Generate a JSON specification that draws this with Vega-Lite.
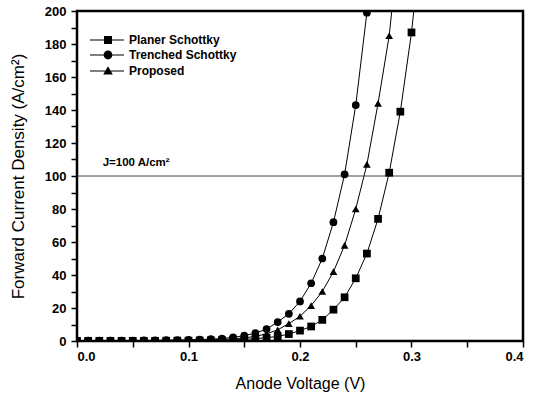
{
  "$schema": "https://vega.github.io/schema/vega-lite/v6.json",
  "width": 446,
  "height": 330,
  "autosize": {"type": "none"},
  "padding": {"left": 77, "top": 11, "right": 12, "bottom": 54},
  "background": "white",
  "config": {
    "font": "Liberation Sans",
    "view": {"stroke": "black", "strokeWidth": 2.5},
    "axis": {
      "domain": false,
      "grid": false,
      "labelOverlap": false,
      "labelFont": "Liberation Sans",
      "labelFontWeight": "bold",
      "labelFontSize": 13,
      "labelColor": "black",
      "tickColor": "black",
      "tickWidth": 1.5,
      "tickSize": 6,
      "titleFont": "Liberation Sans",
      "titleFontWeight": "normal",
      "titleFontSize": 16,
      "titleColor": "black"
    }
  },
  "data": {
    "values": [
      {"s": "Planer Schottky", "v": 0.00, "j": 0.1},
      {"s": "Planer Schottky", "v": 0.01, "j": 0.1},
      {"s": "Planer Schottky", "v": 0.02, "j": 0.1},
      {"s": "Planer Schottky", "v": 0.03, "j": 0.1},
      {"s": "Planer Schottky", "v": 0.04, "j": 0.1},
      {"s": "Planer Schottky", "v": 0.05, "j": 0.1},
      {"s": "Planer Schottky", "v": 0.06, "j": 0.1},
      {"s": "Planer Schottky", "v": 0.07, "j": 0.1},
      {"s": "Planer Schottky", "v": 0.08, "j": 0.15},
      {"s": "Planer Schottky", "v": 0.09, "j": 0.2},
      {"s": "Planer Schottky", "v": 0.10, "j": 0.2},
      {"s": "Planer Schottky", "v": 0.11, "j": 0.3},
      {"s": "Planer Schottky", "v": 0.12, "j": 0.4},
      {"s": "Planer Schottky", "v": 0.13, "j": 0.5},
      {"s": "Planer Schottky", "v": 0.14, "j": 0.7},
      {"s": "Planer Schottky", "v": 0.15, "j": 1.0},
      {"s": "Planer Schottky", "v": 0.16, "j": 1.4},
      {"s": "Planer Schottky", "v": 0.17, "j": 2.0},
      {"s": "Planer Schottky", "v": 0.18, "j": 2.8},
      {"s": "Planer Schottky", "v": 0.19, "j": 4.2},
      {"s": "Planer Schottky", "v": 0.20, "j": 6.3},
      {"s": "Planer Schottky", "v": 0.21, "j": 8.8},
      {"s": "Planer Schottky", "v": 0.22, "j": 12.8},
      {"s": "Planer Schottky", "v": 0.23, "j": 19},
      {"s": "Planer Schottky", "v": 0.24, "j": 26.5},
      {"s": "Planer Schottky", "v": 0.25, "j": 38},
      {"s": "Planer Schottky", "v": 0.26, "j": 53},
      {"s": "Planer Schottky", "v": 0.27, "j": 74},
      {"s": "Planer Schottky", "v": 0.28, "j": 102},
      {"s": "Planer Schottky", "v": 0.29, "j": 139},
      {"s": "Planer Schottky", "v": 0.30, "j": 187},
      {"s": "Planer Schottky", "v": 0.31, "j": 250},
      {"s": "Trenched Schottky", "v": 0.00, "j": 0.2},
      {"s": "Trenched Schottky", "v": 0.01, "j": 0.2},
      {"s": "Trenched Schottky", "v": 0.02, "j": 0.2},
      {"s": "Trenched Schottky", "v": 0.03, "j": 0.25},
      {"s": "Trenched Schottky", "v": 0.04, "j": 0.3},
      {"s": "Trenched Schottky", "v": 0.05, "j": 0.3},
      {"s": "Trenched Schottky", "v": 0.06, "j": 0.35},
      {"s": "Trenched Schottky", "v": 0.07, "j": 0.4},
      {"s": "Trenched Schottky", "v": 0.08, "j": 0.5},
      {"s": "Trenched Schottky", "v": 0.09, "j": 0.6},
      {"s": "Trenched Schottky", "v": 0.10, "j": 0.7},
      {"s": "Trenched Schottky", "v": 0.11, "j": 0.9},
      {"s": "Trenched Schottky", "v": 0.12, "j": 1.1},
      {"s": "Trenched Schottky", "v": 0.13, "j": 1.5},
      {"s": "Trenched Schottky", "v": 0.14, "j": 2.2},
      {"s": "Trenched Schottky", "v": 0.15, "j": 3.2},
      {"s": "Trenched Schottky", "v": 0.16, "j": 4.8},
      {"s": "Trenched Schottky", "v": 0.17, "j": 7.2},
      {"s": "Trenched Schottky", "v": 0.18, "j": 11.5},
      {"s": "Trenched Schottky", "v": 0.19, "j": 16.5},
      {"s": "Trenched Schottky", "v": 0.20, "j": 24},
      {"s": "Trenched Schottky", "v": 0.21, "j": 35},
      {"s": "Trenched Schottky", "v": 0.22, "j": 50},
      {"s": "Trenched Schottky", "v": 0.23, "j": 72},
      {"s": "Trenched Schottky", "v": 0.24, "j": 101},
      {"s": "Trenched Schottky", "v": 0.25, "j": 143},
      {"s": "Trenched Schottky", "v": 0.26, "j": 199},
      {"s": "Trenched Schottky", "v": 0.27, "j": 280},
      {"s": "Proposed", "v": 0.00, "j": 0.15},
      {"s": "Proposed", "v": 0.01, "j": 0.15},
      {"s": "Proposed", "v": 0.02, "j": 0.15},
      {"s": "Proposed", "v": 0.03, "j": 0.15},
      {"s": "Proposed", "v": 0.04, "j": 0.2},
      {"s": "Proposed", "v": 0.05, "j": 0.2},
      {"s": "Proposed", "v": 0.06, "j": 0.2},
      {"s": "Proposed", "v": 0.07, "j": 0.25},
      {"s": "Proposed", "v": 0.08, "j": 0.3},
      {"s": "Proposed", "v": 0.09, "j": 0.35},
      {"s": "Proposed", "v": 0.10, "j": 0.4},
      {"s": "Proposed", "v": 0.11, "j": 0.5},
      {"s": "Proposed", "v": 0.12, "j": 0.7},
      {"s": "Proposed", "v": 0.13, "j": 0.9},
      {"s": "Proposed", "v": 0.14, "j": 1.3},
      {"s": "Proposed", "v": 0.15, "j": 1.9},
      {"s": "Proposed", "v": 0.16, "j": 2.8},
      {"s": "Proposed", "v": 0.17, "j": 4.3},
      {"s": "Proposed", "v": 0.18, "j": 6.8},
      {"s": "Proposed", "v": 0.19, "j": 10.5},
      {"s": "Proposed", "v": 0.20, "j": 15},
      {"s": "Proposed", "v": 0.21, "j": 21.5},
      {"s": "Proposed", "v": 0.22, "j": 30},
      {"s": "Proposed", "v": 0.23, "j": 42},
      {"s": "Proposed", "v": 0.24, "j": 58},
      {"s": "Proposed", "v": 0.25, "j": 80},
      {"s": "Proposed", "v": 0.26, "j": 107},
      {"s": "Proposed", "v": 0.27, "j": 144},
      {"s": "Proposed", "v": 0.28, "j": 185},
      {"s": "Proposed", "v": 0.29, "j": 250}
    ]
  },
  "layer": [
    {
      "mark": {"type": "line", "color": "black", "strokeWidth": 1, "clip": true},
      "encoding": {
        "x": {
          "field": "v", "type": "quantitative",
          "scale": {"domain": [0, 0.4], "nice": false, "zero": false},
          "axis": {
            "title": "Anode Voltage (V)",
            "values": [0, 0.1, 0.2, 0.3, 0.4],
            "format": ".1f",
            "labelPadding": 3,
            "titlePadding": 12,
            "encode": {"ticks": {"update": {"y2": {"value": -6}}}}
          }
        },
        "y": {
          "field": "j", "type": "quantitative",
          "scale": {"domain": [0, 200], "nice": false},
          "axis": {
            "title": "Forward Current Density (A/cm²)",
            "titleFontSize": 17,
            "values": [0, 20, 40, 60, 80, 100, 120, 140, 160, 180, 200],
            "format": "d",
            "labelPadding": 5,
            "titlePadding": 17,
            "encode": {"ticks": {"update": {"x2": {"value": 6}}}}
          }
        },
        "detail": {"field": "s"}
      }
    },
    {
      "data": {"values": [{"j": 100}]},
      "mark": {"type": "rule", "color": "#444", "strokeWidth": 1},
      "encoding": {"y": {"field": "j", "type": "quantitative", "axis": null}}
    },
    {
      "data": {"values": [{"v": 0.023, "j": 106, "t": "J=100 A/cm²"}]},
      "mark": {"type": "text", "align": "left", "baseline": "alphabetic", "fontSize": 11.5, "fontWeight": "bold", "font": "Liberation Sans", "color": "black"},
      "encoding": {
        "x": {"field": "v", "type": "quantitative", "axis": null},
        "y": {"field": "j", "type": "quantitative", "axis": null},
        "text": {"field": "t"}
      }
    },
    {
      "mark": {"type": "point", "filled": true, "color": "black", "opacity": 1, "size": 60, "clip": true},
      "encoding": {
        "x": {
          "field": "v", "type": "quantitative",
          "axis": {
            "orient": "bottom",
            "title": null,
            "labels": false,
            "values": [0.05, 0.15, 0.25, 0.35],
            "encode": {"ticks": {"update": {"y2": {"value": -3}}}}
          }
        },
        "y": {
          "field": "j", "type": "quantitative",
          "axis": {
            "orient": "left",
            "title": null,
            "labels": false,
            "values": [10, 30, 50, 70, 90, 110, 130, 150, 170, 190],
            "encode": {"ticks": {"update": {"x2": {"value": 3}}}}
          }
        },
        "shape": {
          "field": "s", "type": "nominal",
          "scale": {"domain": ["Planer Schottky", "Trenched Schottky", "Proposed"], "range": ["square", "circle", "triangle-up"]},
          "legend": null
        }
      }
    },
    {
      "transform": [{"filter": "false"}],
      "mark": {"type": "point", "filled": true, "color": "black", "opacity": 1},
      "encoding": {
        "shape": {
          "field": "s", "type": "nominal",
          "scale": {
            "domain": ["Planer Schottky", "Trenched Schottky", "Proposed"],
            "range": [
              "M-4.5,-0.13H4V0.13H-4.5ZM-1,-1H1V1H-1Z",
              "M-4.5,-0.13H4V0.13H-4.5ZM1.1,0A1.1,1.1,0,1,1,-1.1,0A1.1,1.1,0,1,1,1.1,0Z",
              "M-4.5,-0.13H4V0.13H-4.5ZM0,-1.2L1.2,0.9H-1.2Z"
            ]
          },
          "legend": {
            "title": null,
            "orient": "none",
            "legendX": 25,
            "legendY": 23,
            "symbolSize": 64,
            "labelOffset": 15,
            "labelFont": "Liberation Sans",
            "labelFontWeight": "bold",
            "labelFontSize": 12,
            "labelColor": "black",
            "rowPadding": 0,
            "encode": {
              "symbols": {
                "update": {
                  "fill": {"value": "black"},
                  "opacity": {"value": 1}
                }
              }
            }
          }
        }
      }
    }
  ],
  "resolve": {
    "scale": {"shape": "independent"},
    "axis": {"x": "independent", "y": "independent"},
    "legend": {"shape": "independent"}
  }
}
